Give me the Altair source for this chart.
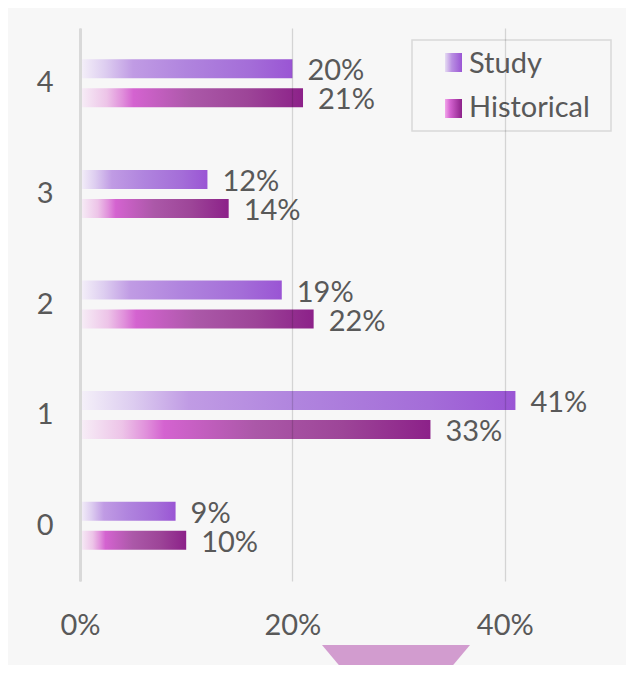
import altair as alt
import pandas as pd

categories = ["0", "1", "2", "3", "4"]
study = [0.09, 0.41, 0.19, 0.12, 0.20]
historical = [0.10, 0.33, 0.22, 0.14, 0.21]
series_names = ["Study", "Historical"]
x_ticks = [0, 0.2, 0.4]
x_domain = [0, 0.5]

df = pd.DataFrame({"category": categories, "Study": study, "Historical": historical})
one = pd.DataFrame({"k": [0]})

FONT = "Lato"
TXT = "#595959"
FS = 29

study_grad = {
    "gradient": "linear", "x1": 0, "y1": 0, "x2": 1, "y2": 0,
    "stops": [
        {"offset": 0, "color": "#f5f1f9"},
        {"offset": 0.12, "color": "#ddcdf0"},
        {"offset": 0.25, "color": "#c09be4"},
        {"offset": 0.5, "color": "#b084de"},
        {"offset": 0.8, "color": "#a46dd8"},
        {"offset": 1, "color": "#9a55d4"},
    ],
}
hist_grad = {
    "gradient": "linear", "x1": 0, "y1": 0, "x2": 1, "y2": 0,
    "stops": [
        {"offset": 0, "color": "#f7eff7"},
        {"offset": 0.12, "color": "#edc4e8"},
        {"offset": 0.19, "color": "#e08fdb"},
        {"offset": 0.24, "color": "#d463d0"},
        {"offset": 0.5, "color": "#ab58a8"},
        {"offset": 0.75, "color": "#9d4598"},
        {"offset": 1, "color": "#8c2189"},
    ],
}
leg_study_grad = {
    "gradient": "linear", "x1": 0, "y1": 0, "x2": 1, "y2": 0,
    "stops": [{"offset": 0, "color": "#e6dcf3"}, {"offset": 0.4, "color": "#b98fe2"}, {"offset": 1, "color": "#9a55d4"}],
}
leg_hist_grad = {
    "gradient": "linear", "x1": 0, "y1": 0, "x2": 1, "y2": 0,
    "stops": [{"offset": 0, "color": "#f2a6ea"}, {"offset": 0.3, "color": "#d463d0"}, {"offset": 1, "color": "#8c2189"}],
}

y_axis = alt.Axis(title=None, domain=True, domainColor="#d9d9d9", domainWidth=3,
                  ticks=False, grid=False, labelPadding=27, labelFont=FONT,
                  labelFontSize=FS, labelColor=TXT, zindex=2)
x_axis = alt.Axis(title=None, values=x_ticks, format=".0%", domain=False, ticks=False,
                  grid=True, gridColor="black", gridOpacity=0.14, gridWidth=1.3,
                  labelFlush=False, labelBaseline="alphabetic", labelPadding=53,
                  labelFont=FONT, labelFontSize=FS, labelColor=TXT, zindex=1)

y_enc = alt.Y("category:N", sort=categories[::-1],
              scale=alt.Scale(domain=categories[::-1], paddingInner=0, paddingOuter=0),
              axis=y_axis)

def xenc(field):
    return alt.X(f"{field}:Q", scale=alt.Scale(domain=x_domain), axis=x_axis)

base = alt.Chart(df)

study_bar = base.mark_bar(size=19, yOffset=-14.5, fill=study_grad).encode(x=xenc("Study"), y=y_enc)
hist_bar = base.mark_bar(size=19, yOffset=14.5, fill=hist_grad).encode(x=xenc("Historical"), y=y_enc)

study_txt = base.mark_text(align="left", baseline="alphabetic", dx=15, dy=-3, font=FONT,
                           fontSize=FS, color=TXT).encode(
    x=xenc("Study"), y=y_enc, text=alt.Text("Study:Q", format=".0%"))
hist_txt = base.mark_text(align="left", baseline="alphabetic", dx=15, dy=26, font=FONT,
                          fontSize=FS, color=TXT).encode(
    x=xenc("Historical"), y=y_enc, text=alt.Text("Historical:Q", format=".0%"))

ob = alt.Chart(one)
leg_box = ob.mark_rect(fill="transparent", stroke="#d9d9d9", strokeWidth=1.5).encode(
    x=alt.value(332), x2=alt.value(531), y=alt.value(12), y2=alt.value(103))
leg_sw1 = ob.mark_rect(fill=leg_study_grad).encode(
    x=alt.value(365), x2=alt.value(382), y=alt.value(25), y2=alt.value(44))
leg_sw2 = ob.mark_rect(fill=leg_hist_grad).encode(
    x=alt.value(365), x2=alt.value(382), y=alt.value(71), y2=alt.value(90))
leg_t1 = ob.mark_text(align="left", baseline="alphabetic", font=FONT, fontSize=FS, color=TXT,
                      text=series_names[0]).encode(x=alt.value(389), y=alt.value(45))
leg_t2 = ob.mark_text(align="left", baseline="alphabetic", font=FONT, fontSize=FS, color=TXT,
                      text=series_names[1]).encode(x=alt.value(389), y=alt.value(89))

trap = ob.mark_point(shape="M -1 0 L 1 0 L 0.58 0.5 L -0.58 0.5 Z", size=148 * 148,
                     filled=True, fill="#d29ccf", opacity=1, strokeWidth=0).encode(
    x=alt.value(316), y=alt.value(617))

chart = alt.layer(study_bar, hist_bar, study_txt, hist_txt,
                  leg_box, leg_sw1, leg_sw2, leg_t1, leg_t2, trap).properties(
    width=531, height=553,
    autosize=alt.AutoSizeParams(type="none"),
    padding={"left": 72, "top": 20, "right": 15, "bottom": 84},
    background="#f7f7f7",
).configure_view(stroke=None)

chart.save("out.html", embed_options={"renderer": "svg", "actions": False})
